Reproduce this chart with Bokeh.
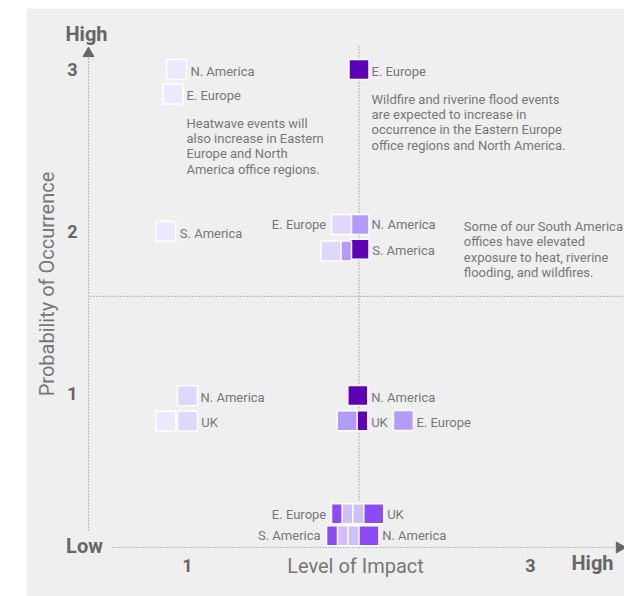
import numpy as np
from bokeh.plotting import figure
from bokeh.models import Range1d, FixedTicker, Label, ColumnDataSource
from bokeh.core.properties import value
from bokeh.embed import file_html
from bokeh.resources import INLINE

FONT = "Roboto"
BG = "#efefef"
TXT = "#777777"
BOLD = "#666666"
LINE = "#888888"

# ---- data ----
x_ticks = [1, 3]
y_ticks = [1, 2, 3]
x_title = "Level of Impact"
y_title = "Probability of Occurrence"

# squares (drawn in this order)
pt_x = [0.936, 0.915, 2.0, 0.873,
        2.0, 1.898,
        2.0, 1.898, 1.837,
        1.0, 0.873, 1.0,
        1.993, 1.993, 1.931, 2.259,
        1.898, 1.960, 2.022, 2.086,
        1.869, 1.933, 1.995, 2.058]
pt_y = [3.0, 2.849, 3.0, 2.0,
        2.043, 2.043,
        1.891, 1.880, 1.880,
        0.986, 0.829, 0.829,
        0.988, 0.831, 0.831, 0.833,
        0.257, 0.257, 0.257, 0.257,
        0.122, 0.122, 0.122, 0.122]
pt_level = ["lightest", "lightest", "dark", "lightest",
            "medium", "light",
            "dark", "medium", "light",
            "light", "lightest", "light",
            "dark", "dark", "medium", "medium",
            "purple", "pale", "pale", "purple",
            "purple", "pale", "pale", "purple"]
level_colors = {"lightest": "#ece8fd", "light": "#e0d8fb", "pale": "#cec1f9",
                "medium": "#b39cf9", "purple": "#8c4bf6", "dark": "#5e00b8"}

# region labels
lab_text = ["N. America", "E. Europe", "E. Europe", "S. America", "N. America",
            "S. America", "N. America", "UK", "N. America", "UK", "E. Europe",
            "UK", "N. America",
            "E. Europe", "E. Europe", "S. America"]
lab_x = [1.017, 0.994, 2.073, 0.955, 2.073,
         2.077, 1.076, 1.080, 2.071, 2.071, 2.335,
         2.164, 2.135,
         1.809, 1.809, 1.776]
lab_y = [2.988, 2.840, 2.990, 1.990, 2.043,
         1.883, 0.973, 0.823, 0.975, 0.823, 0.823,
         0.253, 0.123,
         2.043, 0.253, 0.123]
lab_align = ["left"] * 13 + ["right"] * 3

# annotations
note_text = [
    "Heatwave events will\nalso increase in Eastern\nEurope and North\nAmerica office regions.",
    "Wildfire and riverine flood events\nare expected to increase in\noccurrence in the Eastern Europe\noffice regions and North America.",
    "Some of our South America\noffices have elevated\nexposure to heat, riverine\nflooding, and wildfires.",
]
note_x = [0.994, 2.073, 2.611]
note_y = [2.716, 2.864, 2.077]

# ---- figure ----
p = figure(width=598, height=588,
           x_range=Range1d(0.0612, 3.5481), y_range=Range1d(-0.2531, 3.3765),
           output_backend="svg", toolbar_location=None,
           min_border_left=0, min_border_right=0, min_border_top=0, min_border_bottom=0,
           background_fill_color=BG, border_fill_color=BG, outline_line_color=None,
           margin=(8, 0, 0, 26))
p.grid.visible = False

for ax in (p.xaxis[0], p.yaxis[0]):
    ax.axis_line_color = None
    ax.major_tick_line_color = None
    ax.minor_tick_line_color = None
    ax.major_label_text_font = FONT
    ax.major_label_text_font_size = "18px"
    ax.major_label_text_font_style = "bold"
    ax.major_label_text_color = BOLD
    ax.axis_label_text_font = FONT
    ax.axis_label_text_font_size = "20px"
    ax.axis_label_text_font_style = "normal"
    ax.axis_label_text_color = TXT

p.xaxis.ticker = FixedTicker(ticks=x_ticks)
p.yaxis.ticker = FixedTicker(ticks=y_ticks)
p.xaxis.fixed_location = 0.0123
p.yaxis.fixed_location = 0.411
p.xaxis.bounds = (0.95, 3.01)
p.yaxis.bounds = (0.34, 3.01)
p.xaxis.major_label_standoff = -1
p.yaxis.major_label_standoff = 3
p.xaxis.axis_label = x_title
p.xaxis.axis_label_standoff = -21
p.yaxis.axis_label = y_title
p.yaxis.axis_label_standoff = 5

# dotted axes and dividers
dot = dict(line_color=LINE, line_width=1.2, line_dash="1 2")
p.segment(x0=[0.4227], y0=[0.154], x1=[0.4227], y1=[3.068], **dot)
p.segment(x0=[0.5627], y0=[0.0494], x1=[3.507], y1=[0.0494], **dot)
p.segment(x0=[2.0], y0=[0.34], x1=[2.0], y1=[3.148], **dot)
p.segment(x0=[0.434], y0=[1.599], x1=[3.548], y1=[1.599], **dot)
p.scatter(x=[0.4227], y=[3.099], marker="triangle", size=11, color=BOLD)
p.scatter(x=[3.519], y=[0.0494], marker="triangle", size=11, color=BOLD, angle=-np.pi / 2)

# squares
src = ColumnDataSource(dict(x=pt_x, y=pt_y, c=[level_colors[l] for l in pt_level]))
p.scatter(x="x", y="y", source=src, marker="square", size=20, fill_color="c",
          line_color="white", line_width=1.5)

# labels
lsrc = ColumnDataSource(dict(x=lab_x, y=lab_y, t=lab_text, a=lab_align))
p.text(x="x", y="y", text="t", text_align="a", source=lsrc, text_font=value(FONT),
       text_font_size="13px", text_color=TXT, text_baseline="middle")

nsrc = ColumnDataSource(dict(x=note_x, y=note_y, t=note_text))
p.text(x="x", y="y", text="t", source=nsrc, text_font=value(FONT),
       text_font_size="13px", text_color=TXT, text_baseline="top", text_align="left",
       text_line_height=1.03)

for txt, lx, ly in [("High", 0.411, 3.222), ("Low", 0.3994, 0.0617), ("High", 3.3615, -0.049)]:
    p.add_layout(Label(x=lx, y=ly, text=txt, text_align="center", text_baseline="middle",
                       text_font=FONT, text_font_size="20px", text_font_style="bold",
                       text_color=BOLD))

open("out.html", "w").write(file_html(p, INLINE))
